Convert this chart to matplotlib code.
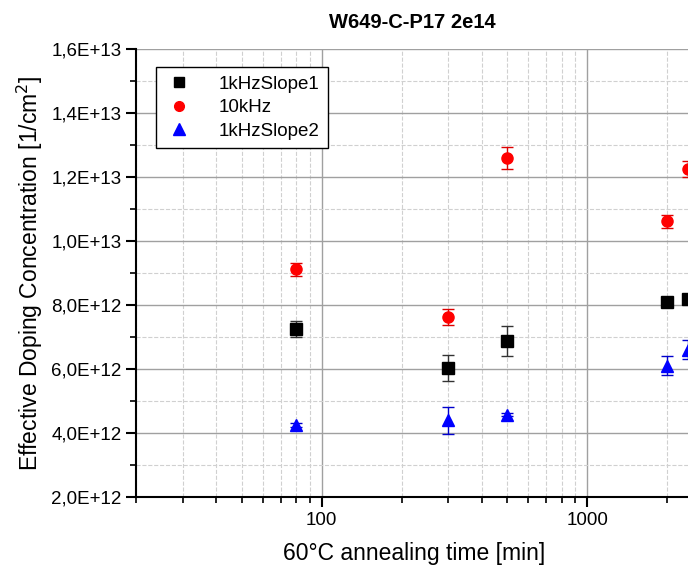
import matplotlib
matplotlib.use('Agg')
import matplotlib.pyplot as plt
from matplotlib.lines import Line2D
from matplotlib.ticker import FuncFormatter, LogLocator, MultipleLocator, NullFormatter

plt.rcParams['font.family'] = ['Liberation Sans', 'DejaVu Sans']

# data (time in min, concentration in 1e12 /cm^2)
time = [80, 300, 500, 2000, 2400]
slope1 = [7.25, 6.03, 6.87, 8.10, 8.20]
slope1_err = [0.25, 0.42, 0.47, 0.05, 0.10]
khz10 = [9.12, 7.62, 12.60, 10.62, 12.25]
khz10_err = [0.20, 0.25, 0.35, 0.20, 0.25]
slope2 = [4.25, 4.40, 4.57, 6.10, 6.60]
slope2_err = [0.05, 0.42, 0.05, 0.30, 0.30]

fig = plt.figure(figsize=(6.88, 5.67), dpi=100)
# axes runs past the right edge of the picture, as in the original screenshot
ax = fig.add_axes([136 / 688, 70 / 567, 717 / 688, 448 / 567])

ax.errorbar(time, [v * 1e12 for v in slope1], yerr=[e * 1e12 for e in slope1_err],
            fmt='s', color='black', ecolor='#333333', markersize=8, capsize=4,
            elinewidth=1, zorder=5)
ax.errorbar(time, [v * 1e12 for v in khz10], yerr=[e * 1e12 for e in khz10_err],
            fmt='o', color='#ff0000', ecolor='#dd0000', markersize=8, capsize=4,
            elinewidth=1, zorder=5)
ax.errorbar(time, [v * 1e12 for v in slope2], yerr=[e * 1e12 for e in slope2_err],
            fmt='^', color='#0000ff', ecolor='#0000cc', markersize=9, capsize=4,
            elinewidth=1, zorder=5)

ax.set_xscale('log')
ax.set_xlim(20, 10000)
ax.set_ylim(2e12, 1.6e13)

ax.xaxis.set_major_locator(LogLocator(base=10, numticks=10))
ax.xaxis.set_minor_locator(LogLocator(base=10, subs=range(2, 10), numticks=20))
ax.xaxis.set_minor_formatter(NullFormatter())
ax.xaxis.set_major_formatter(FuncFormatter(lambda v, p: '%d' % v if 100 <= v <= 1000 else ''))

ax.yaxis.set_major_locator(MultipleLocator(2e12))
ax.yaxis.set_minor_locator(MultipleLocator(1e12))
ax.yaxis.set_major_formatter(FuncFormatter(lambda v, p: ('%.1E' % v).replace('.', ',')))

ax.grid(which='major', color='#a0a0a0', linestyle='-', linewidth=1)
ax.grid(which='minor', color='#d0d0d0', linestyle='--', linewidth=0.8)
ax.set_axisbelow(True)

for s in ['top', 'right']:
    ax.spines[s].set_visible(False)
ax.spines['left'].set_linewidth(1.5)
ax.spines['bottom'].set_linewidth(1.5)

ax.tick_params(which='major', direction='out', length=7, width=1.5, labelsize=13.5)
ax.tick_params(which='minor', direction='out', length=4, width=1.2)

ax.set_xlabel('60°C annealing time [min]', fontsize=16.5, labelpad=12)
ax.xaxis.set_label_coords((414 - 136) / 717, -0.10)
ax.set_ylabel('Effective Doping Concentration [1/cm$^2$]', fontsize=16.5, labelpad=4)

fig.text(412 / 688, 1 - 22 / 567, 'W649-C-P17 2e14', fontsize=14.5, fontweight='bold',
         ha='center', va='center')

handles = [
    Line2D([], [], linestyle='none', marker='s', color='black', markersize=7),
    Line2D([], [], linestyle='none', marker='o', color='#ff0000', markersize=7),
    Line2D([], [], linestyle='none', marker='^', color='#0000ff', markersize=8),
]
leg = ax.legend(handles, ['1kHzSlope1', '10kHz', '1kHzSlope2'], loc='upper left',
                bbox_to_anchor=((156 - 136) / 717, (497 - 67) / 448),
                fontsize=13.5, frameon=True, fancybox=False, edgecolor='black',
                framealpha=1, borderpad=0.45, labelspacing=0.35, handletextpad=1.3,
                handlelength=1.6, borderaxespad=0)
leg.get_frame().set_linewidth(1)

fig.savefig('out.png', dpi=100)
